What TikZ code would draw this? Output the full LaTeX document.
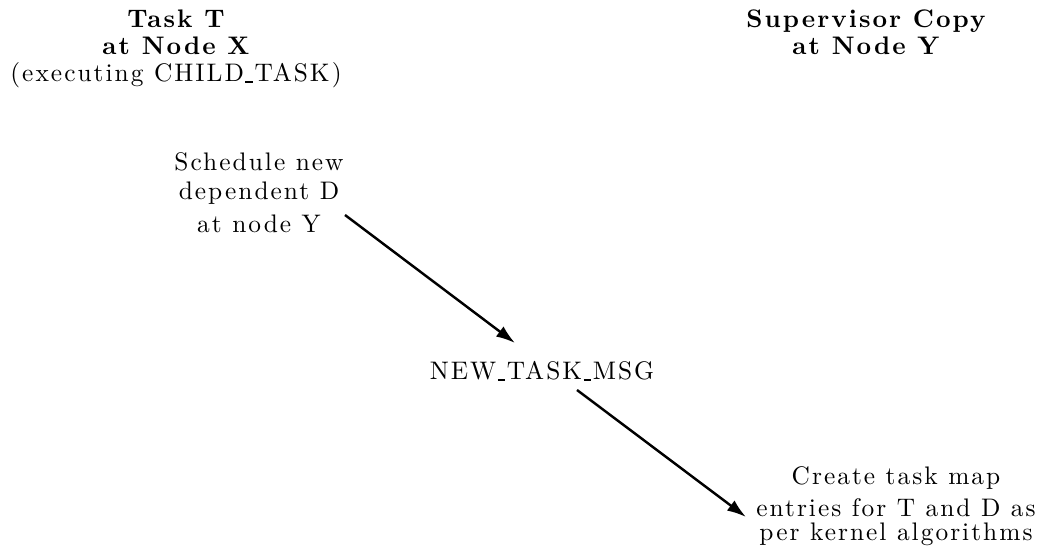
\documentclass[tikz,border=0pt]{standalone}
\usepackage{fontspec}
\setmainfont{lmroman10-regular.otf}[
  BoldFont=lmroman10-bold.otf,
  ItalicFont=lmroman10-italic.otf,
  LetterSpace=8]
\usetikzlibrary{arrows.meta}
% plain-TeX style underscore: a short rule on the baseline
\newcommand\usc{\kern.06em\rule[-.6pt]{.3em}{.75pt}\kern.06em}
\begin{document}
\begin{tikzpicture}[x=0.4098pt,y=-0.4098pt,
  txt/.style={inner sep=0pt,align=center,font=\fontsize{10.4}{11}\selectfont},
  msgarrow/.style={line width=1pt,-{Latex[length=7.8pt,width=5.2pt]}}]
\useasboundingbox (0,0) rectangle (1040,554);

% column headings
\node[txt,anchor=north] (hx) at (176,9.5)
  {{\bfseries Task T}\\{\bfseries at Node X}\\(executing CHILD\usc TASK)};
\node[txt,anchor=north] (hy) at (866,9.5)
  {{\bfseries Supervisor Copy}\\{\bfseries at Node Y}};

% steps
\node[txt,anchor=north] (sched) at (259,152)
  {Schedule new\\[0.9pt]dependent D\\[2.5pt]at node Y};
\node[txt,anchor=north] (msg) at (542,361) {NEW\usc TASK\usc MSG};
\node[txt,anchor=north] (create) at (896,466)
  {Create task map\\[2pt]entries for T and D as\\[-0.8pt]per kernel algorithms};

% message flow
\coordinate (s1) at (345,215);
\coordinate (t1) at (515,343);
\coordinate (s2) at (577,390);
\coordinate (t2) at (746,517);
\draw[msgarrow] (s1) -- (t1);
\draw[msgarrow] (s2) -- (t2);
\end{tikzpicture}
\end{document}
